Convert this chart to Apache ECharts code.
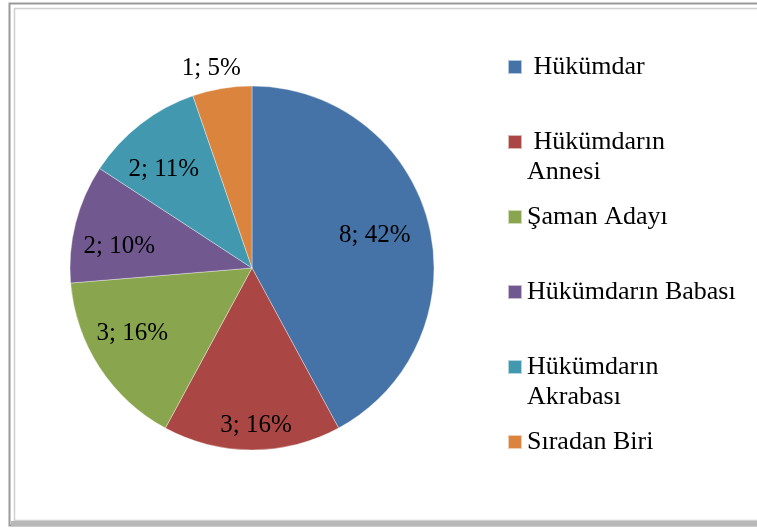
<!DOCTYPE html>
<html>
<head>
<meta charset="utf-8">
<script src="https://cdn.jsdelivr.net/npm/echarts@6/dist/echarts.min.js"></script>
<style>html,body{margin:0;padding:0;background:#fff}#c{width:757px;height:531px}</style>
</head>
<body>
<div id="c"></div>
<script>
// ---- data ----
const categories = [" Hükümdar", " Hükümdarın\nAnnesi", "Şaman Adayı", "Hükümdarın Babası", "Hükümdarın\nAkrabası", "Sıradan Biri"];
const values = [8, 3, 3, 2, 2, 1];
const percentLabels = ["42%", "16%", "16%", "10%", "11%", "5%"];
const colors = ["#4572A7", "#AA4643", "#89A54E", "#71588F", "#4198AF", "#DB843D"];

const FONT = "'Liberation Serif','Times New Roman',serif";
const chart = echarts.init(document.getElementById('c'), null, {renderer: 'canvas'});

// label nudges (style only), mimicking Excel's best-fit label placement
const labelNudge = [[-10, 1], [4, 20], [-5, -9], [0, 12], [-4, 10], [27, 0]];

const mainData = categories.map((n, i) => ({name: n, value: values[i], itemStyle: {color: colors[i]}}));
const labelData = categories.map((n, i) => {
  const d = {name: n, value: values[i], label: {offset: labelNudge[i]}};
  if (i === 5) d.label.position = 'outside';
  return d;
});

chart.setOption({
  animation: false,
  backgroundColor: '#fff',
  graphic: [
    {type: 'rect', shape: {x: 9.5, y: 3.5, width: 760, height: 522}, style: {fill: 'none', stroke: '#9a9a9a', lineWidth: 2}, z: 0},
    {type: 'rect', shape: {x: 14.5, y: 8.5, width: 760, height: 512}, style: {fill: 'none', stroke: '#d0d0d0', lineWidth: 1.5}, z: 0},
    {type: 'rect', shape: {x: 11, y: 521, width: 760, height: 5}, style: {fill: '#b8b8b8'}, z: 0}
  ],
  legend: {
    orient: 'vertical',
    left: 507,
    top: 22,
    padding: 0,
    itemGap: -15,
    itemWidth: 14,
    itemHeight: 14,
    icon: 'rect',
    selectedMode: false,
    data: categories,
    formatter: n => n.indexOf('\n') >= 0 ? ' \n' + n : ' \n' + n + '\n ',
    textStyle: {fontFamily: FONT, fontSize: 26, color: '#000', lineHeight: 30}
  },
  series: [
    {
      type: 'pie',
      center: [252, 268],
      radius: [0, 182],
      startAngle: 90,
      clockwise: true,
      label: {show: false},
      labelLine: {show: false},
      itemStyle: {borderColor: 'rgba(255,255,255,0.6)', borderWidth: 0.6},
      emphasis: {disabled: true},
      data: mainData
    },
    {
      type: 'pie',
      center: [252, 268],
      radius: [86, 182],
      startAngle: 90,
      clockwise: true,
      silent: true,
      z: 3,
      itemStyle: {color: 'rgba(0,0,0,0)'},
      label: {
        show: true,
        position: 'inside',
        fontFamily: FONT,
        fontSize: 25,
        color: '#000',
        formatter: p => values[p.dataIndex] + '; ' + percentLabels[p.dataIndex]
      },
      labelLine: {show: false, length: 20, length2: 0},
      emphasis: {disabled: true},
      data: labelData
    }
  ]
});
</script>
</body>
</html>
